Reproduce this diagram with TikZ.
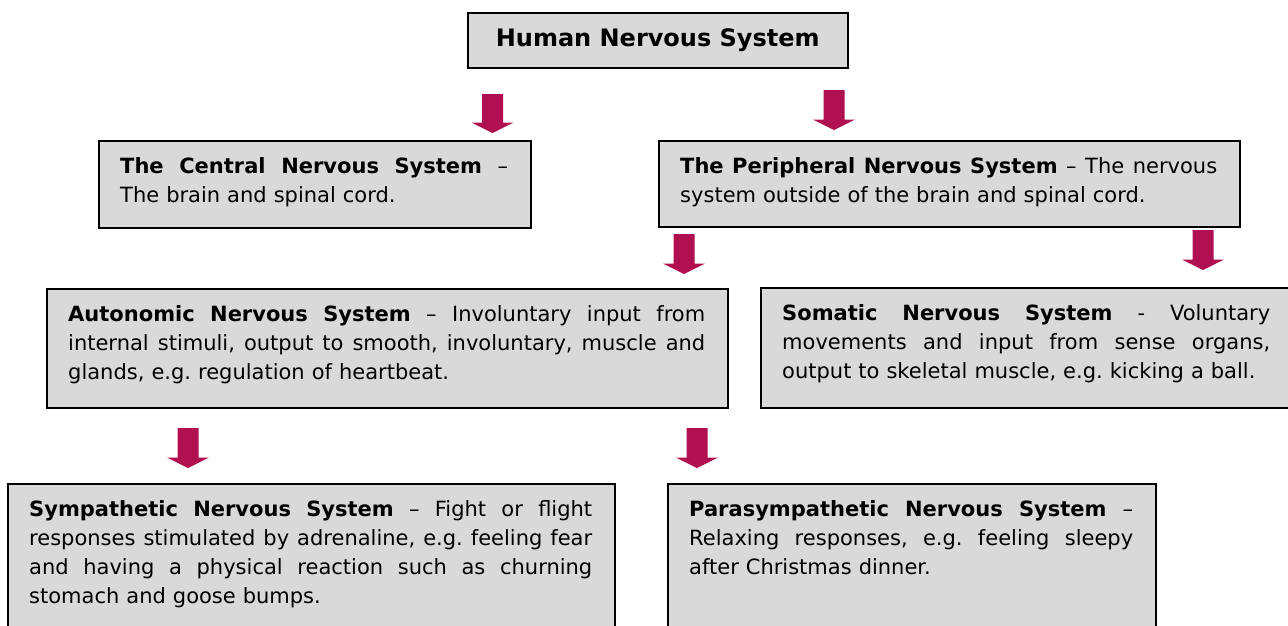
\documentclass[tikz,border=0pt]{standalone}
\usepackage{fontspec}
\setmainfont{DejaVu Sans}
\frenchspacing
\definecolor{arrowred}{HTML}{B00F50}
\definecolor{boxgray}{HTML}{D9D9D9}
\newlength\mylw
\newcommand\jsp{\spaceskip=0.33em plus 8em minus 0.05em\relax\xspaceskip=\spaceskip}
\newcommand\fline[1]{\noindent\hbox to\mylw{\jsp #1}\par}
\newcommand\jline[1]{\noindent\hbox to\mylw{\jsp #1}\par}
\newcommand\lline[1]{\noindent\hbox to\mylw{#1\hfil}\par}
\newcommand\barrow[3]{\fill[arrowred] (#1-10.5,#2) -- (#1+10.5,#2) -- (#1+10.5,#3-10.5) -- (#1+21,#3-10.5) -- (#1,#3) -- (#1-21,#3-10.5) -- (#1-10.5,#3-10.5) -- cycle;}
\begin{document}
\begin{tikzpicture}[x=1pt,y=-1pt,
  box/.style={draw=black,line width=1.5pt,fill=boxgray,anchor=north west,inner sep=0pt},
  txt/.style={anchor=base west,inner sep=0pt,font=\fontsize{21}{29}\selectfont}]
\useasboundingbox (0,0) rectangle (1288,625);
\clip (0,0) rectangle (1288,625);
\fill[white] (0,0) rectangle (1288,625);
% boxes
\node[box,minimum width=380pt,minimum height=55pt,font=\fontsize{24}{29}\selectfont\bfseries] (top) at (467,12) {Human Nervous System};
\node[box,minimum width=432pt,minimum height=87pt] (cns) at (98,140) {};
\node[box,minimum width=581pt,minimum height=86pt] (pns) at (658,140) {};
\node[box,minimum width=681pt,minimum height=119pt] (ans) at (46,288) {};
\node[box,minimum width=540pt,minimum height=120pt] (som) at (760,287) {};
\node[box,minimum width=607pt,minimum height=160pt] (sym) at (7,483) {};
\node[box,minimum width=488pt,minimum height=160pt] (par) at (667,483) {};
% texts
\node[txt,text width=388pt] (cnst) at ([shift={(22,33)}]cns.north west) {%
\setlength\mylw{388pt}%
\fline{\textbf{The Central Nervous System} –}%
\lline{The brain and spinal cord.}};
\node[txt,text width=537pt] (pnst) at ([shift={(22,33)}]pns.north west) {%
\setlength\mylw{537pt}%
\fline{\textbf{The Peripheral Nervous System} – The nervous}%
\lline{system outside of the brain and spinal cord.}};
\node[txt,text width=637pt] (anst) at ([shift={(22,33)}]ans.north west) {%
\setlength\mylw{637pt}%
\fline{\textbf{Autonomic Nervous System} – Involuntary input from}%
\jline{internal stimuli, output to smooth, involuntary, muscle and}%
\lline{glands, e.g. regulation of heartbeat.}};
\node[txt,text width=488pt] (somt) at ([shift={(22,33)}]som.north west) {%
\setlength\mylw{488pt}%
\fline{\textbf{Somatic Nervous System} - Voluntary}%
\jline{movements and input from sense organs,}%
\lline{output to skeletal muscle, e.g. kicking a ball.}};
\node[txt,text width=563pt] (symt) at ([shift={(22,33)}]sym.north west) {%
\setlength\mylw{563pt}%
\fline{\textbf{Sympathetic Nervous System} – Fight or flight}%
\jline{responses stimulated by adrenaline, e.g. feeling fear}%
\jline{and having a physical reaction such as churning}%
\lline{stomach and goose bumps.}};
\node[txt,text width=444pt] (part) at ([shift={(22,33)}]par.north west) {%
\setlength\mylw{444pt}%
\fline{\textbf{Parasympathetic Nervous System} –}%
\jline{Relaxing responses, e.g. feeling sleepy}%
\lline{after Christmas dinner.}};
% arrows
\barrow{492.5}{94}{133}
\barrow{834}{90}{130}
\barrow{684}{234}{274}
\barrow{1203}{230}{270}
\barrow{188}{428}{468}
\barrow{697}{428}{468}
\end{tikzpicture}
\end{document}
